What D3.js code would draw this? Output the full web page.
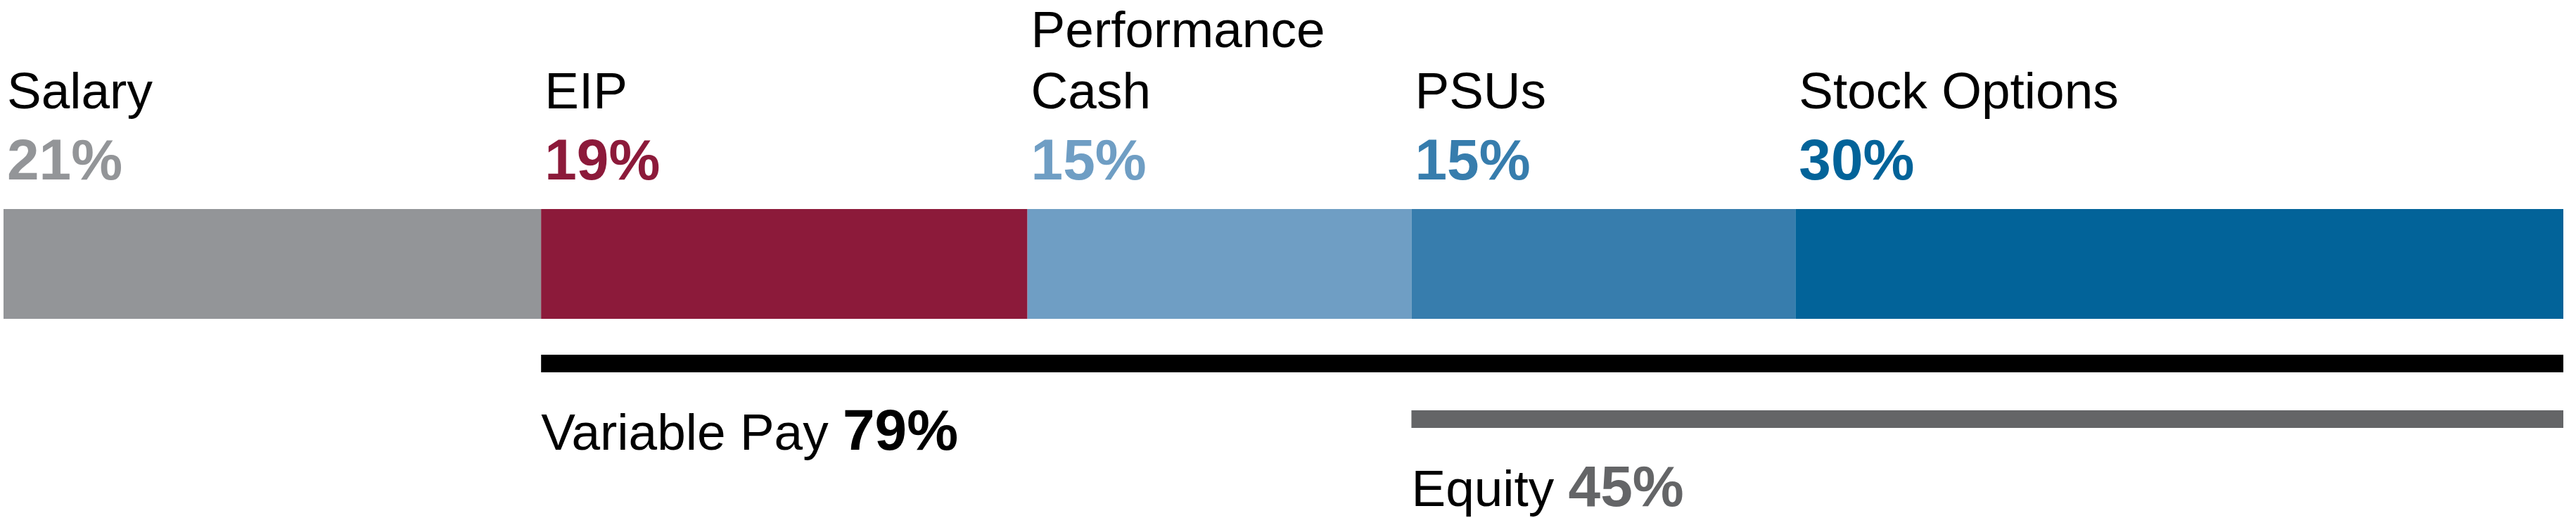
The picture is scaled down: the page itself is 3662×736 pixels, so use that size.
<!DOCTYPE html>
<html>
<head>
<meta charset="utf-8">
<script src="https://cdn.jsdelivr.net/npm/d3@7"></script>
<style>
  html, body { margin: 0; padding: 0; background: #ffffff; }
  svg { display: block; }
  text { font-family: "Liberation Sans", Arial, Helvetica, sans-serif; }
</style>
</head>
<body>
<div id="chart"></div>
<script>
// ---- data ----
const categories = ["Salary", "EIP", "Performance Cash", "PSUs", "Stock Options"];
const labelLines = [["Salary"], ["EIP"], ["Performance", "Cash"], ["PSUs"], ["Stock Options"]];
const values = [21, 19, 15, 15, 30];
const segmentColors = ["#939598", "#8c1a3a", "#6f9ec4", "#377dad", "#026399"];

const groupNames = ["Variable Pay", "Equity"];
const groupStart = ["EIP", "PSUs"];          // first category covered by the bracket
const groupValues = [79, 45];
const groupColors = ["#000000", "#646567"];

// ---- layout ----
const W = 3662, H = 736;
const svg = d3.select("#chart").append("svg").attr("width", W).attr("height", H);

const x = d3.scaleLinear().domain([0, d3.sum(values)]).range([5, 3644]);

let acc = 0;
const segs = categories.map((c, i) => {
  const s = { name: c, lines: labelLines[i], value: values[i], start: acc, color: segmentColors[i] };
  acc += values[i];
  return s;
});

const barTop = 297, barH = 156;

svg.selectAll("rect.seg").data(segs).enter().append("rect")
  .attr("class", "seg")
  .attr("x", d => x(d.start))
  .attr("y", barTop)
  .attr("width", d => x(d.start + d.value) - x(d.start))
  .attr("height", barH)
  .attr("fill", d => d.color);

// category labels
const labelFont = 73, valueFont = 82;
segs.forEach(d => {
  const lx = x(d.start) + 5;
  const n = d.lines.length;
  d.lines.forEach((t, j) => {
    svg.append("text")
      .attr("x", lx)
      .attr("y", 154 - (n - 1 - j) * 87)
      .attr("font-size", labelFont)
      .attr("fill", "#000")
      .text(t);
  });
  svg.append("text")
    .attr("x", lx)
    .attr("y", 255)
    .attr("font-size", valueFont)
    .attr("font-weight", "bold")
    .attr("fill", d.color)
    .text(d.value + "%");
});

// group brackets
const lineTops = [504, 583];
const lineH = 25;
const textBase = [639, 719];
groupNames.forEach((g, i) => {
  const startSeg = segs.find(s => s.name === groupStart[i]);
  const x0 = x(startSeg.start);
  const x1 = x(startSeg.start + groupValues[i]);
  svg.append("rect")
    .attr("x", x0).attr("y", lineTops[i])
    .attr("width", x1 - x0).attr("height", lineH)
    .attr("fill", groupColors[i]);
  const t = svg.append("text")
    .attr("x", x0).attr("y", textBase[i])
    .attr("font-size", labelFont);
  t.append("tspan").attr("fill", "#000").text(g + " ");
  t.append("tspan")
    .attr("font-size", valueFont)
    .attr("font-weight", "bold")
    .attr("fill", groupColors[i])
    .text(groupValues[i] + "%");
});
</script>
</body>
</html>
